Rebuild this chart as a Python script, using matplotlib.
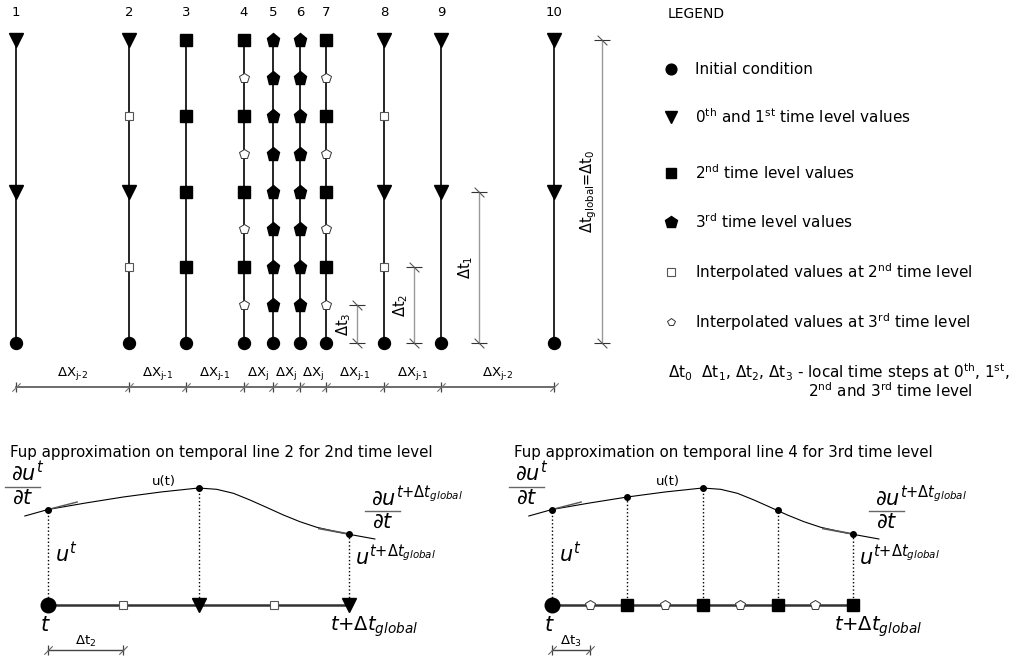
import matplotlib
matplotlib.use("Agg")
import matplotlib.pyplot as plt

plt.rcParams["font.family"] = "DejaVu Sans"
plt.rcParams["mathtext.fontset"] = "dejavusans"

W, H = 1013, 666

# ---------------------------------------------------------------------------
# Top diagram: temporal lines with local time stepping
# ---------------------------------------------------------------------------
line_x = [16, 129, 186, 244, 273, 300, 326, 384, 441, 554]
line_names = ["1", "2", "3", "4", "5", "6", "7", "8", "9", "10"]
# time level reached on each line ("i" = with interpolated values of next level)
line_kind = ["1", "1i", "2", "2i", "3", "3", "2i", "1i", "1", "1"]
dx_labels = ["j-2", "j-1", "j-1", "j", "j", "j", "j-1", "j-1", "j-2"]

# time levels, as fractions of dt_global
halves = [0.5, 1.0]
quarters_odd = [0.25, 0.75]
quarters = [0.25, 0.5, 0.75, 1.0]
eighths_odd = [0.125, 0.375, 0.625, 0.875]
eighths = [0.125, 0.25, 0.375, 0.5, 0.625, 0.75, 0.875, 1.0]

dt_dim_labels = ["Δt$_3$", "Δt$_2$", "Δt$_1$", "Δt$_{\\rm global}$=Δt$_0$"]
dt_dim_x = [357, 414, 479, 602]
dt_dim_len = [0.125, 0.25, 0.5, 1.0]

legend_keys = ["init", "t01", "t2", "t3", "i2", "i3"]
legend_texts = [
    "Initial condition",
    "0$^{\\rm th}$ and 1$^{\\rm st}$ time level values",
    "2$^{\\rm nd}$ time level values",
    "3$^{\\rm rd}$ time level values",
    "Interpolated values at 2$^{\\rm nd}$ time level",
    "Interpolated values at 3$^{\\rm rd}$ time level",
]
legend_rows = [69, 117, 173, 222, 272, 322]

# ---------------------------------------------------------------------------
# Bottom panels: u(t) along one temporal line (t as fraction of dt_global)
# ---------------------------------------------------------------------------
curve_t = [-0.077, 0.0, 0.125, 0.25, 0.375, 0.5, 0.56, 0.616, 0.671, 0.727,
           0.782, 0.837, 0.893, 0.947, 1.0, 1.086]
curve_u = [89, 95.5, 102, 108, 113, 117, 115.7, 111.7, 105, 97.5,
           90, 83.3, 77.7, 74, 70.7, 66]

p2_nodes_t = [0.0, 0.5, 1.0]
p2_nodes_u = [95.5, 117, 70.7]
p2_interp_t = [0.25, 0.75]

p4_nodes_t = [0.0, 0.25, 0.5, 0.75, 1.0]
p4_nodes_u = [95.5, 108, 117, 95, 70.7]
p4_interp_t = [0.125, 0.375, 0.625, 0.875]

STYLE = {
    "init": dict(marker="o", ms=8.6, mfc="black", mec="black"),
    "t01": dict(marker="v", ms=10, mfc="black", mec="black"),
    "t2": dict(marker="s", ms=8.6, mfc="black", mec="black"),
    "t3": dict(marker="p", ms=9.8, mfc="black", mec="black"),
    "i2": dict(marker="s", ms=6, mfc="white", mec="#555555", mew=0.8),
    "i3": dict(marker="p", ms=7.2, mfc="white", mec="#333333", mew=0.7),
}
LEVELS = {
    "1": [("t01", halves)],
    "1i": [("t01", halves), ("i2", quarters_odd)],
    "2": [("t2", quarters)],
    "2i": [("t2", quarters), ("i3", eighths_odd)],
    "3": [("t3", eighths)],
}
SLASH = [(-1, -1), (1, 1)]
BACKSLASH = [(-1, 1), (1, -1)]

fig = plt.figure(figsize=(W / 100, H / 100), dpi=100)


def overlay(xlim, ylim):
    ax = fig.add_axes([0, 0, 1, 1])
    ax.set_xlim(*xlim)
    ax.set_ylim(*ylim)
    ax.axis("off")
    ax.patch.set_alpha(0)
    return ax


page = overlay((0, W), (H, 0))

# top diagram axes: y = time in units of dt_global (0 at row 343, 1 at row 40)
ROW0, ROW1 = 343, 40
sc = ROW0 - ROW1
top = overlay((0, W), ((ROW0 - H) / sc, ROW0 / sc))

for x, name, kind in zip(line_x, line_names, line_kind):
    top.plot([x, x], [0, 1], color="black", lw=1.2, zorder=1)
    top.text(x, 1.092, name, ha="center", va="center", fontsize=9.5)
    for key, levels in LEVELS[kind]:
        top.plot([x] * len(levels), levels, ls="none", zorder=3, **STYLE[key])
    top.plot([x], [0], ls="none", zorder=3, **STYLE["init"])

# space step dimension line
DIM_V = -0.144
top.plot([line_x[0], line_x[-1]], [DIM_V, DIM_V], color="#444444", lw=1.1)
top.plot(line_x, [DIM_V] * len(line_x), ls="none", marker="|", ms=7,
         mec="#444444", mew=0.9)
top.plot(line_x, [DIM_V] * len(line_x), ls="none", marker=SLASH, ms=6,
         mec="#777777", mew=0.8)
for i, lab in enumerate(dx_labels):
    xm = (line_x[i] + line_x[i + 1]) / 2
    top.text(xm, -0.102, "ΔX$_{\\text{%s}}$" % lab, ha="center", va="center",
             fontsize=9.5)

# time step dimensions
for lab, x, length in zip(dt_dim_labels, dt_dim_x, dt_dim_len):
    top.plot([x, x], [0, length], color="#999999", lw=1)
    top.plot([x, x], [0, length], ls="none", marker="_", ms=11,
             mec="#333333", mew=0.8)
    top.plot([x, x], [0, length], ls="none", marker=BACKSLASH, ms=7,
             mec="#555555", mew=0.8)
    top.text(x - 13, length / 2, lab, rotation=90, ha="center", va="center",
             fontsize=10.5)

# legend
page.text(668, 14, "LEGEND", ha="left", va="center", fontsize=10)
for key, txt, row in zip(legend_keys, legend_texts, legend_rows):
    st = dict(STYLE[key])
    if key in ("i2", "i3"):
        st["ms"] = st["ms"] * 0.85
    else:
        st["ms"] = st["ms"] * 0.9
    page.plot([671], [row], ls="none", **st)
    page.text(695, row, txt, ha="left", va="center", fontsize=11)
page.text(668, 372, "Δt$_0$  Δt$_1$, Δt$_2$, Δt$_3$ - local time steps at "
          "0$^{\\rm th}$, 1$^{\\rm st}$,", ha="left", va="center", fontsize=11)
page.text(808, 391, "2$^{\\rm nd}$ and 3$^{\\rm rd}$ time level", ha="left",
          va="center", fontsize=11)

# ---------------------------------------------------------------------------
# bottom panels
# ---------------------------------------------------------------------------
BASE_ROW = 605
SPAN = 301
SUP_END = r"t{+}\Delta t_{global}"


def deriv(ax, t_left, u_bar, sup, bar_len):
    ax.plot([t_left, t_left + bar_len], [u_bar, u_bar], color="#666666", lw=1)
    ax.text(t_left + 0.02, u_bar + 6, r"$\partial u^{%s}$" % sup, ha="left",
            va="baseline", fontsize=15)
    ax.text(t_left + bar_len / 2, u_bar - 17, r"$\partial t$", ha="center",
            va="baseline", fontsize=15)


def panel(x0, title, nodes_t, nodes_u, node_key, interp_t, interp_key,
          step_label, step):
    ax = overlay(((0 - x0) / SPAN, (W - x0) / SPAN),
                 (BASE_ROW - H, BASE_ROW))
    ax.text(-0.126, 153, title, ha="left", va="center", fontsize=10.8)

    ax.plot(curve_t, curve_u, color="black", lw=0.8)
    ax.plot([0, 0.097], [95.5, 103], color="#555555", lw=1)
    ax.plot([0.9, 1.0], [76.5, 71], color="#555555", lw=1.3)
    ax.vlines(nodes_t, 0, nodes_u, colors="black", linestyles=":", lw=1)
    ax.plot(nodes_t, nodes_u, ls="none", marker="o", ms=4, color="black",
            zorder=4)

    ax.plot([0, 1], [0, 0], color="#333333", lw=1.8, zorder=2)
    st = dict(STYLE["init"])
    st["ms"] = 10.5
    ax.plot([0], [0], ls="none", zorder=4, **st)
    st = dict(STYLE[node_key])
    st["ms"] = st["ms"] * 0.95
    ax.plot(nodes_t[1:], [0] * (len(nodes_t) - 1), ls="none", zorder=4, **st)
    ax.plot(interp_t, [0] * len(interp_t), ls="none", zorder=4,
            **STYLE[interp_key])

    # labels
    deriv(ax, -0.143, 118, "t", 0.117)
    deriv(ax, 1.053, 94, SUP_END, 0.117)
    ax.text(0.385, 124, "u(t)", ha="center", va="center", fontsize=9.5)
    ax.text(0.023, 43, r"$u^t$", ha="left", va="baseline", fontsize=15)
    ax.text(1.02, 40, r"$u^{%s}$" % SUP_END, ha="left", va="baseline",
            fontsize=15)
    ax.text(-0.01, -26, r"$t$", ha="center", va="baseline", fontsize=15)
    ax.text(0.937, -26, r"$t{+}\Delta t_{global}$", ha="left", va="baseline",
            fontsize=14)

    # step dimension
    ax.plot([0, step], [-45, -45], color="#444444", lw=1)
    ax.plot([0, step], [-45, -45], ls="none", marker="|", ms=7,
            mec="#444444", mew=0.9)
    ax.plot([0, step], [-45, -45], ls="none", marker=SLASH, ms=6,
            mec="#666666", mew=0.8)
    ax.text(step / 2, -36, step_label, ha="center", va="center", fontsize=9.5)
    return ax


panel(48, "Fup approximation on temporal line 2 for 2nd time level",
      p2_nodes_t, p2_nodes_u, "t01", p2_interp_t, "i2", "Δt$_2$", 0.25)
panel(552, "Fup approximation on temporal line 4 for 3rd time level",
      p4_nodes_t, p4_nodes_u, "t2", p4_interp_t, "i3", "Δt$_3$", 0.125)

fig.savefig("out.png", dpi=100)
